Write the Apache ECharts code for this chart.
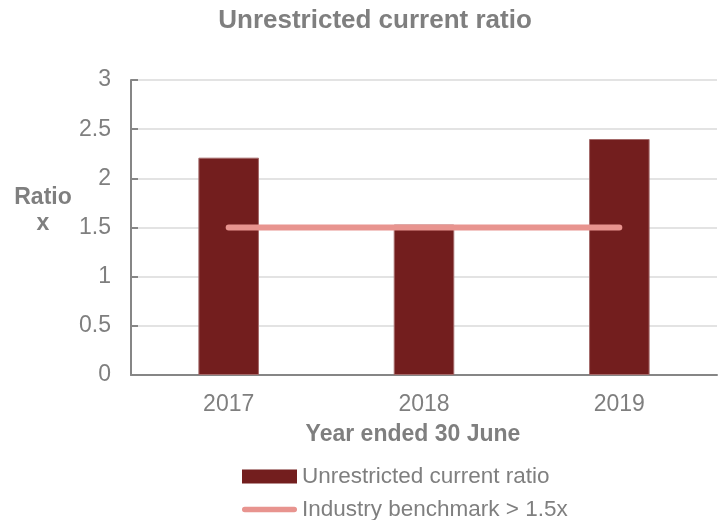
<!DOCTYPE html>
<html>
<head>
<meta charset="utf-8">
<script src="https://cdn.jsdelivr.net/npm/echarts@6/dist/echarts.min.js"></script>
<style>html,body{margin:0;padding:0;background:#fff;}#c{width:718px;height:520px;}</style>
</head>
<body>
<div id="c"></div>
<script>
const categories = ['2017', '2018', '2019'];
const ratioValues = [2.21, 1.53, 2.40];
const benchmarkValues = [1.5, 1.5, 1.5];
const yTicks = [0, 0.5, 1, 1.5, 2, 2.5, 3];

const gray = '#7f7f7f';
const font = 'Liberation Sans, Arial, sans-serif';
const chart = echarts.init(document.getElementById('c'), null, {renderer: 'canvas'});
chart.setOption({
  animation: false,
  textStyle: {fontFamily: font},
  graphic: [
    {type: 'text', x: 375, y: 21, style: {text: 'Unrestricted current ratio', fill: gray, font: 'bold 26px ' + font, align: 'center', verticalAlign: 'middle'}},
    {type: 'text', x: 43, y: 211, style: {text: 'Ratio\nx', fill: gray, font: 'bold 23px ' + font, align: 'center', verticalAlign: 'middle', lineHeight: 26}},
    {type: 'text', x: 413, y: 435, style: {text: 'Year ended 30 June', fill: gray, font: 'bold 23px ' + font, align: 'center', verticalAlign: 'middle'}}
  ],
  grid: {left: 131, right: 1, top: 80, bottom: 145, containLabel: false},
  legend: {
    orient: 'vertical', left: 237, top: 460, height: 120,
    itemWidth: 55, itemHeight: 14, itemGap: 10,
    textStyle: {color: gray, fontSize: 22.5, fontFamily: font},
    data: [
      {name: 'Unrestricted current ratio', icon: 'rect', itemStyle: {borderWidth: 0}},
      {name: 'Industry benchmark > 1.5x', icon: 'path://M3,0H57A3,3 0 0 1 57,6H3A3,3 0 0 1 3,0Z'}
    ]
  },
  xAxis: {
    type: 'category', data: categories,
    axisLine: {lineStyle: {color: '#868686', width: 2}},
    axisTick: {inside: true, length: 7, lineStyle: {color: '#868686', width: 2}},
    axisLabel: {color: gray, fontSize: 23, margin: 18, fontFamily: font}
  },
  yAxis: {
    type: 'value', min: 0, max: 3, interval: 0.5,
    axisLine: {show: true, lineStyle: {color: '#868686', width: 2}},
    axisTick: {show: true, inside: true, length: 7, lineStyle: {color: '#868686', width: 2}},
    axisLabel: {color: gray, fontSize: 23, margin: 20, fontFamily: font,
      formatter: v => yTicks.includes(v) ? String(v) : ''},
    splitLine: {lineStyle: {color: '#e3e3e3', width: 2}}
  },
  series: [
    {
      name: 'Unrestricted current ratio', type: 'bar', data: ratioValues,
      barWidth: '31%',
      itemStyle: {color: '#731e1e', borderColor: '#a46a6a', borderWidth: 1}
    },
    {
      name: 'Industry benchmark > 1.5x', type: 'line', data: benchmarkValues,
      symbol: 'none', z: 5,
      lineStyle: {color: '#e8948f', width: 6, cap: 'round'},
      itemStyle: {color: '#e8948f'}
    }
  ]
});
</script>
</body>
</html>
